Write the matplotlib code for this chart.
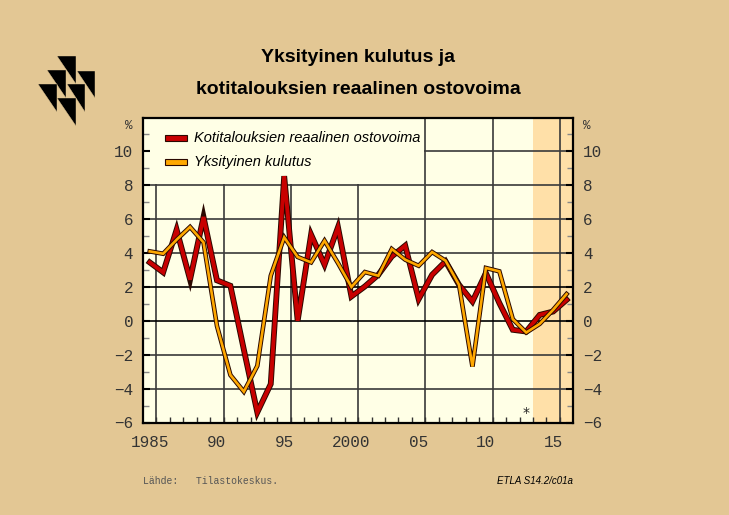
import numpy as np
import matplotlib
matplotlib.use('Agg')
import matplotlib.pyplot as plt
import matplotlib.patheffects as pe
from matplotlib.patches import Polygon, Rectangle

# data
years = list(range(1985, 2017))
ostovoima = [3.45, 2.86, 5.38, 2.43, 6.13, 2.39, 2.07, -1.7, -5.4, -3.73,
             8.54, 0.0, 5.09, 3.31, 5.52, 1.44, 2.03, 2.72, 3.8, 4.44,
             1.28, 2.72, 3.51, 2.13, 1.14, 2.82, 1.05, -0.53, -0.63, 0.35,
             0.55, 1.24]
kulutus = [4.1, 3.96, 4.79, 5.54, 4.63, -0.3, -3.2, -4.18, -2.66, 2.66,
           4.93, 3.77, 3.45, 4.73, 3.41, 2.0, 2.88, 2.66, 4.24, 3.61,
           3.25, 4.06, 3.55, 2.13, -2.7, 3.12, 2.92, 0.1, -0.69, -0.18,
           0.65, 1.58]
series_names = ['Kotitalouksien reaalinen ostovoima', 'Yksityinen kulutus']
series_colors = ['#C80000', '#FFA800']
x_label_years = [1985, 1990, 1995, 2000, 2005, 2010, 2015]
x_labels = ['1985', '90', '95', '2000', '05', '10', '15']
forecast_start = 2013.5

W, H = 729, 515
BG = '#E3C794'
PLOT_BG = '#FFFFE6'
MONO = 'Liberation Mono'
SANS = 'Liberation Sans'


def px(x, y):
    # pixel position -> figure fraction
    return x / W, 1 - y / H


fig = plt.figure(figsize=(W / 100, H / 100), dpi=100)
fig.patch.set_facecolor(BG)

ax = fig.add_axes([143 / W, 1 - 422.5 / H, 430.3 / W, 305 / H])
ax.set_facecolor(PLOT_BG)
ax.set_xlim(1984.5, 2016.5)
ax.set_ylim(-6, 12)

# forecast shading
ax.axvspan(forecast_start, 2016.5, color='#FFE0A8', lw=0, zorder=0.5)

# grid
for x in np.arange(1985.5, 2016, 5):
    ax.axvline(x, color='#3a3a3a', lw=1.2, zorder=1)
for y in range(-4, 12, 2):
    ax.axhline(y, color='black' if y in (0, 2) else '#3a3a3a', lw=1.2, zorder=1)

# legend area covers the grid in the top-left corner
ax.add_patch(Rectangle((1984.5, 8.08), 20.93, 4, facecolor=PLOT_BG,
                       edgecolor='none', zorder=1.5))

# lines with dark outline
for vals, col, lw in [(ostovoima, series_colors[0], 2.8), (kulutus, series_colors[1], 1.9)]:
    ax.plot(years, vals, color=col, lw=lw, zorder=3, solid_joinstyle='miter',
            path_effects=[pe.Stroke(linewidth=lw + 1.4, foreground='#2a0800'), pe.Normal()])

ax.text(2013, -5.45, '*', ha='center', va='center', fontsize=10, color='#222', zorder=4)

# ticks
ax.set_xticks(x_label_years, x_labels)
ax.set_xticks(np.arange(1985.5, 2016, 1), minor=True)
ax.tick_params(axis='x', which='major', length=0, pad=9, labelsize=11.5, labelcolor='#333')
ax.tick_params(axis='x', which='minor', direction='in', length=4, width=1, color='#333')
ax.set_yticks(range(-6, 11, 2))
ax.set_yticks(range(-5, 12, 2), minor=True)
ax.tick_params(axis='y', which='both', direction='in', left=True, right=True,
               labelleft=True, labelright=True)
ax.tick_params(axis='y', which='major', length=5, width=1.5, pad=7, labelsize=11.5, labelcolor='#333')
ax.tick_params(axis='y', which='minor', length=4, width=1, color='#888')
for lab in ax.get_xticklabels() + ax.get_yticklabels():
    lab.set_family(MONO)
for sp in ax.spines.values():
    sp.set_linewidth(1.6)
    sp.set_color('black')

fig.text(*px(129, 126), '%', ha='center', va='center', family=MONO, fontsize=9, color='#333')
fig.text(*px(587, 126), '%', ha='center', va='center', family=MONO, fontsize=9, color='#333')

# legend
for i, (name, col) in enumerate(zip(series_names, series_colors)):
    yc = 138 + i * 24
    x0, y0 = px(165, yc + 3)
    fig.add_artist(Rectangle((x0, y0), 22 / W, 6 / H, facecolor=col,
                             edgecolor='#2a0800', lw=0.8, transform=fig.transFigure, zorder=5))
    fig.text(*px(194, yc), name, ha='left', va='center', family=SANS,
             style='italic', fontsize=10.5, color='black', zorder=5)

# title
fig.text(*px(358, 58), 'Yksityinen kulutus ja', ha='center', va='center',
         family=SANS, weight='bold', fontsize=14)
fig.text(*px(358, 90), 'kotitalouksien reaalinen ostovoima', ha='center', va='center',
         family=SANS, weight='bold', fontsize=14)

# footer
fig.text(*px(143, 481), 'Lähde:   Tilastokeskus.', ha='left', va='center',
         family='Liberation Mono', fontsize=7, color='#555')
fig.text(*px(573, 481), 'ETLA S14.2/c01a', ha='right', va='center',
         family=SANS, style='italic', fontsize=7, color='black')

# logo: six black triangles
for tx, ty in [(57.3, 56), (47.3, 70), (76.7, 70.7), (38.3, 84), (66.7, 84), (57.3, 98.3)]:
    pts = [px(tx, ty), px(tx + 18.5, ty), px(tx + 18.5, ty + 27.5)]
    fig.add_artist(Polygon(pts, closed=True, facecolor='black', edgecolor=BG,
                           lw=0.3, transform=fig.transFigure))

fig.savefig('out.png', dpi=100, facecolor=BG)
